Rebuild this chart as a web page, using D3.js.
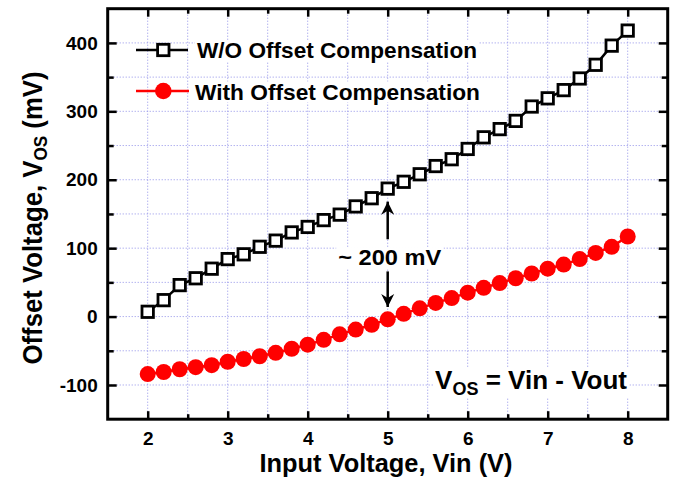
<!DOCTYPE html>
<html lang="en">
<head>
<meta charset="UTF-8">
<script src="https://d3js.org/d3.v7.min.js"></script>
<style>
    body { margin: 0; background: white; }
    text { font-family: "Liberation Sans", Arial, sans-serif; font-weight: bold; fill: black; }
</style>
</head>
<body>
<script>
    // input voltage (V)
    const vin = [2.0, 2.2, 2.4, 2.6, 2.8, 3.0, 3.2, 3.4, 3.6, 3.8, 4.0, 4.2, 4.4, 4.6, 4.8, 5.0,
                 5.2, 5.4, 5.6, 5.8, 6.0, 6.2, 6.4, 6.6, 6.8, 7.0, 7.2, 7.4, 7.6, 7.8, 8.0];
    // offset voltage (mV) without compensation
    const woComp = [7, 24, 46, 56, 70, 84, 91, 102, 111, 123, 131, 141, 149, 161, 173, 187,
                    197, 208, 220, 230, 245, 262, 274, 286, 307, 319, 331, 348, 368, 396, 418];
    // offset voltage (mV) with compensation
    const withComp = [-84, -81, -77, -74, -71, -66, -62, -58, -53, -47, -41, -34, -26, -19, -12, -4,
                      4, 12, 20, 27, 35, 42, 49, 56, 63, 70, 76, 84, 93, 102, 117];

    const xMajor = [2, 3, 4, 5, 6, 7, 8];
    const xMinor = [2.5, 3.5, 4.5, 5.5, 6.5, 7.5];
    const yMajor = [-100, 0, 100, 200, 300, 400];
    const yMinor = [-50, 50, 150, 250, 350];

    const legendNames = ["W/O Offset Compensation", "With Offset Compensation"];

    /*---------------- scales ----------------*/
    const W = 674, H = 481;
    const x = d3.scaleLinear().domain([1.5, 8.5]).range([107.7, 667.7]);
    const y = d3.scaleLinear().domain([-150, 450]).range([419.2, 8.7]);

    const svg = d3.select("body").append("svg")
        .attr("width", W).attr("height", H);

    /*---------------- grid ----------------*/
    const grid = svg.append("g")
        .attr("stroke", "#9090e8")
        .attr("stroke-width", 1)
        .attr("stroke-dasharray", "1,2");
    grid.selectAll(".gx").data(xMajor.concat(xMinor)).enter().append("line")
        .attr("x1", d => x(d)).attr("x2", d => x(d))
        .attr("y1", y(450)).attr("y2", y(-150));
    grid.selectAll(".gy").data(yMajor.concat(yMinor)).enter().append("line")
        .attr("x1", x(1.5)).attr("x2", x(8.5))
        .attr("y1", d => y(d)).attr("y2", d => y(d));

    /*---------------- axes ----------------*/
    function styleAxis(g) {
        g.select(".domain").remove();
        g.selectAll("line").attr("stroke", "black").attr("stroke-width", 2.5);
        g.selectAll("text").attr("font-size", 19)
            .attr("font-family", "Liberation Sans").attr("font-weight", "bold");
    }
    const plain = d => String(d);   // hyphen minus like the original
    // bottom
    svg.append("g").attr("transform", `translate(0,${y(-150)})`)
        .call(d3.axisBottom(x).tickValues(xMajor).tickSize(-8).tickPadding(12).tickFormat(plain))
        .call(styleAxis);
    svg.append("g").attr("transform", `translate(0,${y(-150)})`)
        .call(d3.axisBottom(x).tickValues(xMinor).tickSize(-5).tickFormat(""))
        .call(styleAxis);
    // top
    svg.append("g").attr("transform", `translate(0,${y(450)})`)
        .call(d3.axisTop(x).tickValues(xMajor).tickSize(-8).tickFormat(""))
        .call(styleAxis);
    svg.append("g").attr("transform", `translate(0,${y(450)})`)
        .call(d3.axisTop(x).tickValues(xMinor).tickSize(-5).tickFormat(""))
        .call(styleAxis);
    // left
    svg.append("g").attr("transform", `translate(${x(1.5)},0)`)
        .call(d3.axisLeft(y).tickValues(yMajor).tickSize(-9).tickPadding(10).tickFormat(plain))
        .call(styleAxis);
    svg.append("g").attr("transform", `translate(${x(1.5)},0)`)
        .call(d3.axisLeft(y).tickValues(yMinor).tickSize(-6).tickFormat(""))
        .call(styleAxis);
    // right
    svg.append("g").attr("transform", `translate(${x(8.5)},0)`)
        .call(d3.axisRight(y).tickValues(yMajor).tickSize(-9).tickFormat(""))
        .call(styleAxis);
    svg.append("g").attr("transform", `translate(${x(8.5)},0)`)
        .call(d3.axisRight(y).tickValues(yMinor).tickSize(-6).tickFormat(""))
        .call(styleAxis);

    // frame
    svg.append("rect")
        .attr("x", x(1.5)).attr("y", y(450))
        .attr("width", x(8.5) - x(1.5)).attr("height", y(-150) - y(450))
        .attr("fill", "none").attr("stroke", "black").attr("stroke-width", 3);

    /*---------------- text with white boxes ----------------*/
    function boxedText(sel) {
        // white box behind a text so gridlines stop there
        sel.each(function () {
            const b = this.getBBox();
            d3.select(this.parentNode).insert("rect", () => this)
                .attr("x", b.x - 2).attr("y", b.y + 2)
                .attr("width", b.width + 4).attr("height", b.height - 4)
                .attr("fill", "white");
        });
    }

    /*---------------- series ----------------*/
    const line = d3.line().x((d, i) => x(vin[i])).y(d => y(d));

    svg.append("path").datum(woComp)
        .attr("d", line).attr("fill", "none").attr("stroke", "black").attr("stroke-width", 2.5);
    svg.selectAll(".sq").data(woComp).enter().append("rect")
        .attr("x", (d, i) => x(vin[i]) - 5.7).attr("y", d => y(d) - 5.7)
        .attr("width", 11.4).attr("height", 11.4)
        .attr("fill", "white").attr("stroke", "black").attr("stroke-width", 2.8);

    svg.append("path").datum(withComp)
        .attr("d", line).attr("fill", "none").attr("stroke", "#ff0000").attr("stroke-width", 2.5);
    svg.selectAll(".ci").data(withComp).enter().append("circle")
        .attr("cx", (d, i) => x(vin[i])).attr("cy", d => y(d))
        .attr("r", 8).attr("fill", "#ff0000");

    /*---------------- legend ----------------*/
    const leg = svg.append("g");
    // black entry
    leg.append("line").attr("x1", 136).attr("x2", 188).attr("y1", 50).attr("y2", 50)
        .attr("stroke", "black").attr("stroke-width", 2.5);
    leg.append("rect").attr("x", 163.3 - 5.7).attr("y", 50 - 5.7).attr("width", 11.4).attr("height", 11.4)
        .attr("fill", "white").attr("stroke", "black").attr("stroke-width", 2.8);
    // red entry
    leg.append("line").attr("x1", 136).attr("x2", 189).attr("y1", 91).attr("y2", 91)
        .attr("stroke", "#ff0000").attr("stroke-width", 2.5);
    leg.append("circle").attr("cx", 163.3).attr("cy", 91).attr("r", 8.3).attr("fill", "#ff0000");

    leg.selectAll(".lt").data(legendNames).enter().append("text")
        .attr("x", (d, i) => i === 0 ? 197 : 195)
        .attr("y", (d, i) => i === 0 ? 58 : 99.5)
        .attr("font-size", 22)
        .attr("textLength", (d, i) => i === 0 ? 280 : 285)
        .attr("lengthAdjust", "spacingAndGlyphs")
        .text(d => d)
        .call(boxedText);

    /*---------------- annotations ----------------*/
    const ann = svg.append("g");
    ann.append("text")
        .attr("x", x(5) + 2).attr("y", y(87) + 8)
        .attr("text-anchor", "middle")
        .attr("font-size", 22)
        .attr("textLength", 103).attr("lengthAdjust", "spacingAndGlyphs")
        .text("~ 200 mV")
        .call(boxedText);

    svg.append("defs").append("marker")
        .attr("id", "arrow").attr("viewBox", "0 0 10 10")
        .attr("refX", 10).attr("refY", 5)
        .attr("markerWidth", 13).attr("markerHeight", 14)
        .attr("markerUnits", "userSpaceOnUse")
        .attr("orient", "auto")
        .append("path").attr("d", "M0,0 L10,5 L0,10 L3,5 Z").attr("fill", "black");

    ann.append("line")
        .attr("x1", x(5)).attr("x2", x(5)).attr("y1", y(113)).attr("y2", y(168))
        .attr("stroke", "black").attr("stroke-width", 2.5).attr("marker-end", "url(#arrow)");
    ann.append("line")
        .attr("x1", x(5)).attr("x2", x(5)).attr("y1", y(66)).attr("y2", y(14))
        .attr("stroke", "black").attr("stroke-width", 2.5).attr("marker-end", "url(#arrow)");

    const eq = ann.append("text")
        .attr("x", 627).attr("y", 389)
        .attr("text-anchor", "end")
        .attr("font-size", 26);
    eq.append("tspan").text("V");
    eq.append("tspan").attr("font-size", 18).attr("dy", 6).text("OS");
    eq.append("tspan").attr("dy", -6).text(" = Vin - Vout");
    eq.call(boxedText);

    /*---------------- axis titles ----------------*/
    svg.append("text")
        .attr("x", 386).attr("y", 472)
        .attr("text-anchor", "middle")
        .attr("font-size", 25)
        .attr("textLength", 253).attr("lengthAdjust", "spacingAndGlyphs")
        .text("Input Voltage, Vin (V)");

    const yl = svg.append("text")
        .attr("transform", `translate(42,${218}) rotate(-90)`)
        .attr("text-anchor", "middle")
        .attr("font-size", 27)
        .attr("textLength", 293).attr("lengthAdjust", "spacingAndGlyphs");
    yl.append("tspan").text("Offset Voltage, V");
    yl.append("tspan").attr("font-size", 18).attr("dy", 5).text("OS");
    yl.append("tspan").attr("dy", -5).text(" (mV)");
</script>
</body>
</html>
